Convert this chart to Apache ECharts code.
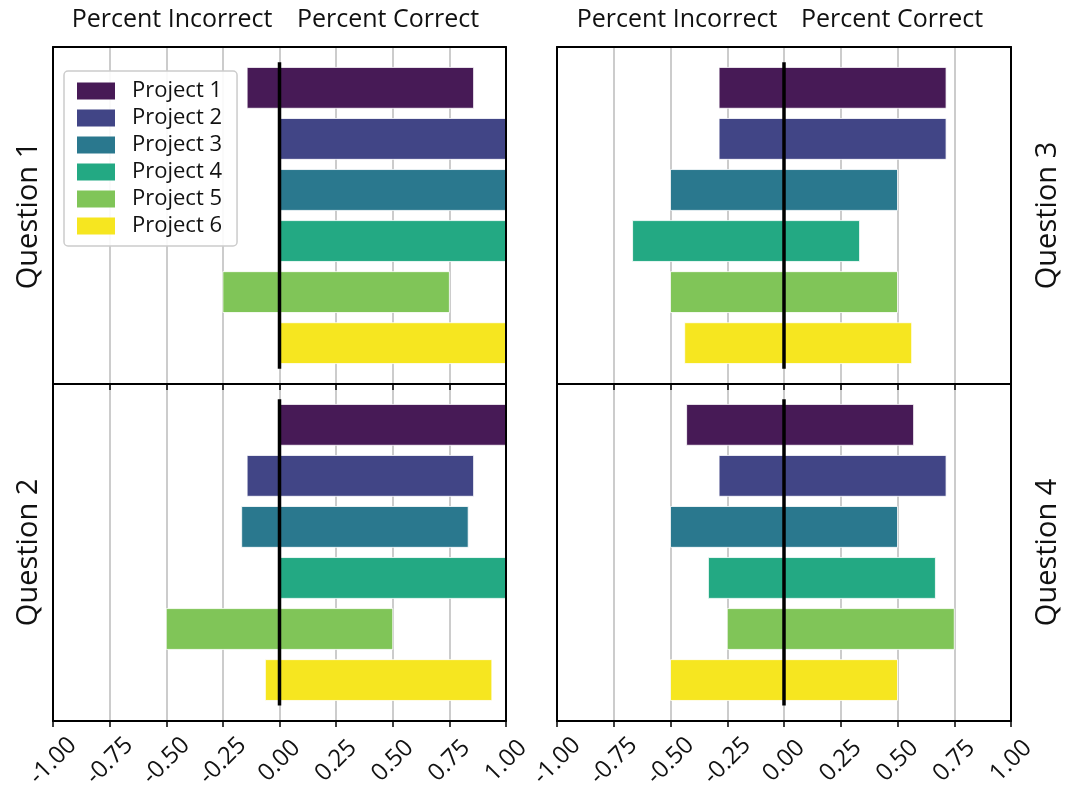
<!DOCTYPE html>
<html>
<head>
<meta charset="utf-8">
<script src="https://cdn.jsdelivr.net/npm/echarts@6/dist/echarts.min.js"></script>
<style>
  html, body { margin: 0; padding: 0; background: #fff; }
  #chart { width: 1066px; height: 791px; }
</style>
</head>
<body>
<div id="chart"></div>
<script>
// ---------- data ----------
const projects = ['Project 1', 'Project 2', 'Project 3', 'Project 4', 'Project 5', 'Project 6'];
const colors = ['#471a56', '#414586', '#2a788e', '#23a983', '#80c558', '#f6e620'];

const q1Incorrect = [-0.143, 0, 0, 0, -0.25, 0];
const q1Correct   = [0.857, 1, 1, 1, 0.75, 1];
const q2Incorrect = [0, -0.143, -0.167, 0, -0.5, -0.0625];
const q2Correct   = [1, 0.857, 0.833, 1, 0.5, 0.9375];
const q3Incorrect = [-0.286, -0.286, -0.5, -0.667, -0.5, -0.4375];
const q3Correct   = [0.714, 0.714, 0.5, 0.333, 0.5, 0.5625];
const q4Incorrect = [-0.429, -0.286, -0.5, -0.333, -0.25, -0.5];
const q4Correct   = [0.571, 0.714, 0.5, 0.667, 0.75, 0.5];

const questionNames = ['Question 1', 'Question 3', 'Question 2', 'Question 4'];
const tickValues = [-1, -0.75, -0.5, -0.25, 0, 0.25, 0.5, 0.75, 1];
const headerLabels = ['Percent Incorrect', 'Percent Correct'];

// ---------- layout ----------
const FONT = '"Open Sans", "Noto Sans", sans-serif';
const panels = [
  { inc: q1Incorrect, cor: q1Correct, left: 53,  top: 47,  width: 453, height: 337, side: 'left',  bottom: false },
  { inc: q3Incorrect, cor: q3Correct, left: 557, top: 47,  width: 454, height: 337, side: 'right', bottom: false },
  { inc: q2Incorrect, cor: q2Correct, left: 53,  top: 384, width: 453, height: 338, side: 'left',  bottom: true },
  { inc: q4Incorrect, cor: q4Correct, left: 557, top: 384, width: 454, height: 338, side: 'right', bottom: true }
];

const grid = [], xAxis = [], yAxis = [], series = [];

function renderBar(params, api) {
  const v = api.value(0);
  const c = api.value(1);
  if (v === 0) return;
  const p0 = api.coord([0, c - 0.4]);
  const p1 = api.coord([v, c + 0.4]);
  return {
    type: 'rect',
    shape: {
      x: Math.min(p0[0], p1[0]),
      y: Math.min(p0[1], p1[1]),
      width: Math.abs(p1[0] - p0[0]),
      height: Math.abs(p1[1] - p0[1])
    },
    style: { fill: api.visual('color'), stroke: '#ffffff', lineWidth: 0.8 }
  };
}

panels.forEach((p, g) => {
  grid.push({ left: p.left, top: p.top, width: p.width, height: p.height, containLabel: false });
  xAxis.push({
    type: 'value', gridIndex: g, position: 'bottom', min: -1, max: 1, interval: 0.25, z: 0,
    axisLine: { show: true, onZero: false, lineStyle: { color: '#000', width: 2 } },
    axisTick: { show: true, inside: false, length: 6, lineStyle: { color: '#000', width: 1.5 } },
    splitLine: { show: true, lineStyle: { color: '#cccccc', width: 2 } },
    axisLabel: {
      show: p.bottom, rotate: 45, fontSize: 24, fontFamily: FONT, color: '#111',
      align: 'center', verticalAlign: 'middle', margin: 40,
      formatter: v => (Math.abs(v) < 1e-9 ? 0 : v).toFixed(2)
    }
  });
  xAxis.push({
    type: 'value', gridIndex: g, position: 'top', min: -1, max: 1, interval: 0.25, z: 5,
    axisLine: { show: true, onZero: false, lineStyle: { color: '#000', width: 2 } },
    axisTick: { show: false }, splitLine: { show: false }, axisLabel: { show: false }
  });
  const yBase = {
    type: 'value', gridIndex: g, min: -0.8, max: 5.8, inverse: true, z: 5,
    axisLine: { show: true, onZero: false, lineStyle: { color: '#000', width: 2 } },
    axisTick: { show: false }, splitLine: { show: false }, axisLabel: { show: false }
  };
  yAxis.push(Object.assign({}, yBase, {
    position: 'left',
    name: p.side === 'left' ? questionNames[g] : '',
    nameLocation: 'middle', nameRotate: 90, nameGap: 10,
    nameTextStyle: { fontSize: 29, fontFamily: FONT, color: '#111' }
  }));
  yAxis.push(Object.assign({}, yBase, {
    position: 'right',
    name: p.side === 'right' ? questionNames[g] : '',
    nameLocation: 'middle', nameRotate: 90, nameGap: 22,
    nameTextStyle: { fontSize: 29, fontFamily: FONT, color: '#111' }
  }));

  projects.forEach((name, i) => {
    series.push({
      type: 'custom', name: name, xAxisIndex: 2 * g, yAxisIndex: 2 * g, z: 2,
      itemStyle: { color: colors[i] },
      encode: { x: 0, y: 1 },
      renderItem: renderBar,
      silent: true,
      data: [[p.inc[i], i], [p.cor[i], i]]
    });
  });
  series.push({
    type: 'line', xAxisIndex: 2 * g, yAxisIndex: 2 * g, z: 3, silent: true,
    symbol: 'none', lineStyle: { color: '#000', width: 3.5 },
    data: [[0, -0.5], [0, projects.length - 0.5]]
  });
});

const headerCenters = [[172, 388], [677, 892]];
const graphic = [];
headerCenters.forEach(pair => {
  pair.forEach((cx, k) => {
    graphic.push({
      type: 'text', x: cx, y: 20,
      style: { text: headerLabels[k], fontSize: 25, fontFamily: FONT, fill: '#111', align: 'center', verticalAlign: 'middle' }
    });
  });
});

const chart = echarts.init(document.getElementById('chart'), null, { renderer: 'canvas' });
chart.setOption({
  animation: false,
  backgroundColor: '#fff',
  grid, xAxis, yAxis, series, graphic,
  legend: {
    data: projects, orient: 'vertical', left: 64, top: 71, icon: 'rect',
    itemWidth: 38, itemHeight: 17, itemGap: 5, selectedMode: false,
    padding: [9, 15, 9, 13],
    backgroundColor: 'rgba(255,255,255,0.9)', borderColor: '#cccccc', borderWidth: 1.5, borderRadius: 4,
    textStyle: { fontSize: 22, fontFamily: FONT, color: '#111', padding: [0, 0, 0, 12] },
    z: 10
  }
});
</script>
</body>
</html>
